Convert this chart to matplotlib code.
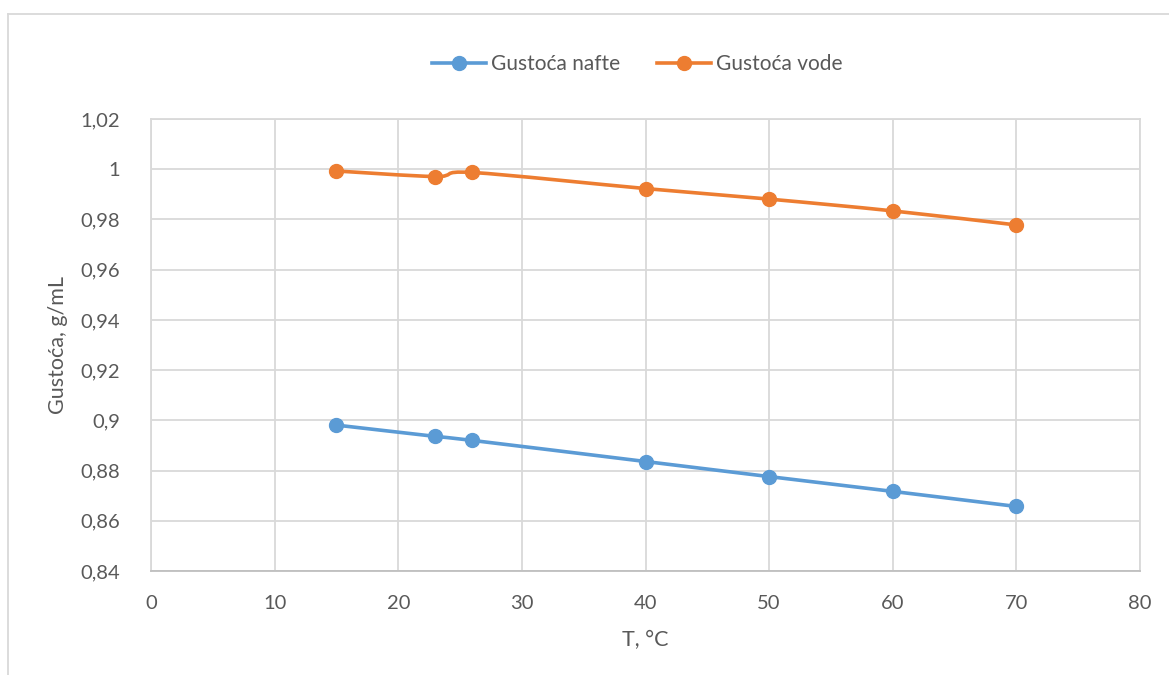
import numpy as np
import matplotlib
matplotlib.use("Agg")
import matplotlib.pyplot as plt
from matplotlib.path import Path
from matplotlib.patches import PathPatch
from matplotlib.lines import Line2D
from matplotlib.ticker import FuncFormatter

# --- Données ---
temperature = [15, 23, 26, 40, 50, 60, 70]
gustoca_nafte = [0.8981, 0.8936, 0.8920, 0.8836, 0.8776, 0.8717, 0.8657]
gustoca_vode = [0.9993, 0.9971, 0.9987, 0.9923, 0.9881, 0.9834, 0.9778]

labels = ["Gustoća nafte", "Gustoća vode"]
colors = ["#5B9BD5", "#ED7D31"]
x_ticks = [0, 10, 20, 30, 40, 50, 60, 70, 80]
y_ticks = [0.84, 0.86, 0.88, 0.90, 0.92, 0.94, 0.96, 0.98, 1.00, 1.02]

txt = "#595959"
grid_c = "#D9D9D9"
plt.rcParams['font.family'] = ['Lato', 'DejaVu Sans']


def smooth_path(xs, ys):
    """Courbe lissée (Catmull-Rom -> Bezier) comme Excel."""
    pts = np.column_stack([xs, ys]).astype(float)
    n = len(pts)
    verts = [pts[0]]
    codes = [Path.MOVETO]
    for i in range(n - 1):
        p0 = pts[i - 1] if i > 0 else pts[i]
        p1 = pts[i]
        p2 = pts[i + 1]
        p3 = pts[i + 2] if i + 2 < n else pts[i + 1]
        c1 = p1 + (p2 - p0) / 6.0
        c2 = p2 - (p3 - p1) / 6.0
        verts += [c1, c2, p2]
        codes += [Path.CURVE4] * 3
    return Path(verts, codes)


fig = plt.figure(figsize=(11.69, 6.75), dpi=100)
W, H = 1169, 675
ax = fig.add_axes([151 / W, 1 - 571 / H, (1140 - 151) / W, (571 - 119) / H])

for ys, lab, c in zip([gustoca_nafte, gustoca_vode], labels, colors):
    ax.add_patch(PathPatch(smooth_path(temperature, ys), facecolor='none',
                           edgecolor=c, lw=2.6, zorder=3))
    ax.plot(temperature, ys, ls='none', marker='o', ms=10, color=c, zorder=4)

ax.set_xlim(0, 80)
ax.set_ylim(0.84, 1.02)
ax.set_xticks(x_ticks)
ax.set_yticks(y_ticks)

def fmt(v, pos):
    s = ("%.2f" % v).rstrip('0').rstrip('.')
    return s.replace('.', ',')

ax.yaxis.set_major_formatter(FuncFormatter(fmt))
ax.grid(True, color=grid_c, lw=1.3)
ax.set_axisbelow(True)
for s in ax.spines.values():
    s.set_color(grid_c)
    s.set_linewidth(1.3)
ax.spines['bottom'].set_color("#BFBFBF")
ax.tick_params(length=0, labelsize=14.5, colors=txt, pad=17)
ax.tick_params(axis='y', pad=22)

ax.set_xlabel("T, °C", fontsize=15.5, color=txt, labelpad=13)
ax.set_ylabel("Gustoća, g/mL", fontsize=15.5, color=txt, labelpad=9)

handles = [Line2D([0], [0], color=c, lw=2.6, marker='o', ms=10) for c in colors]
fig.legend(handles, labels, loc='center', bbox_to_anchor=(0.545, 1 - 64 / H),
           ncol=2, frameon=False, fontsize=15, labelcolor=txt,
           handlelength=2.6, handletextpad=0.2, columnspacing=1.8)

# cadre extérieur
fig.add_artist(Line2D([8 / W, 8 / W], [0, 1 - 14 / H], color=grid_c, lw=1.3,
                      transform=fig.transFigure))
fig.add_artist(Line2D([8 / W, 1], [1 - 14 / H, 1 - 14 / H], color=grid_c, lw=1.3,
                      transform=fig.transFigure))

fig.savefig("out.png", dpi=100, facecolor='white')
